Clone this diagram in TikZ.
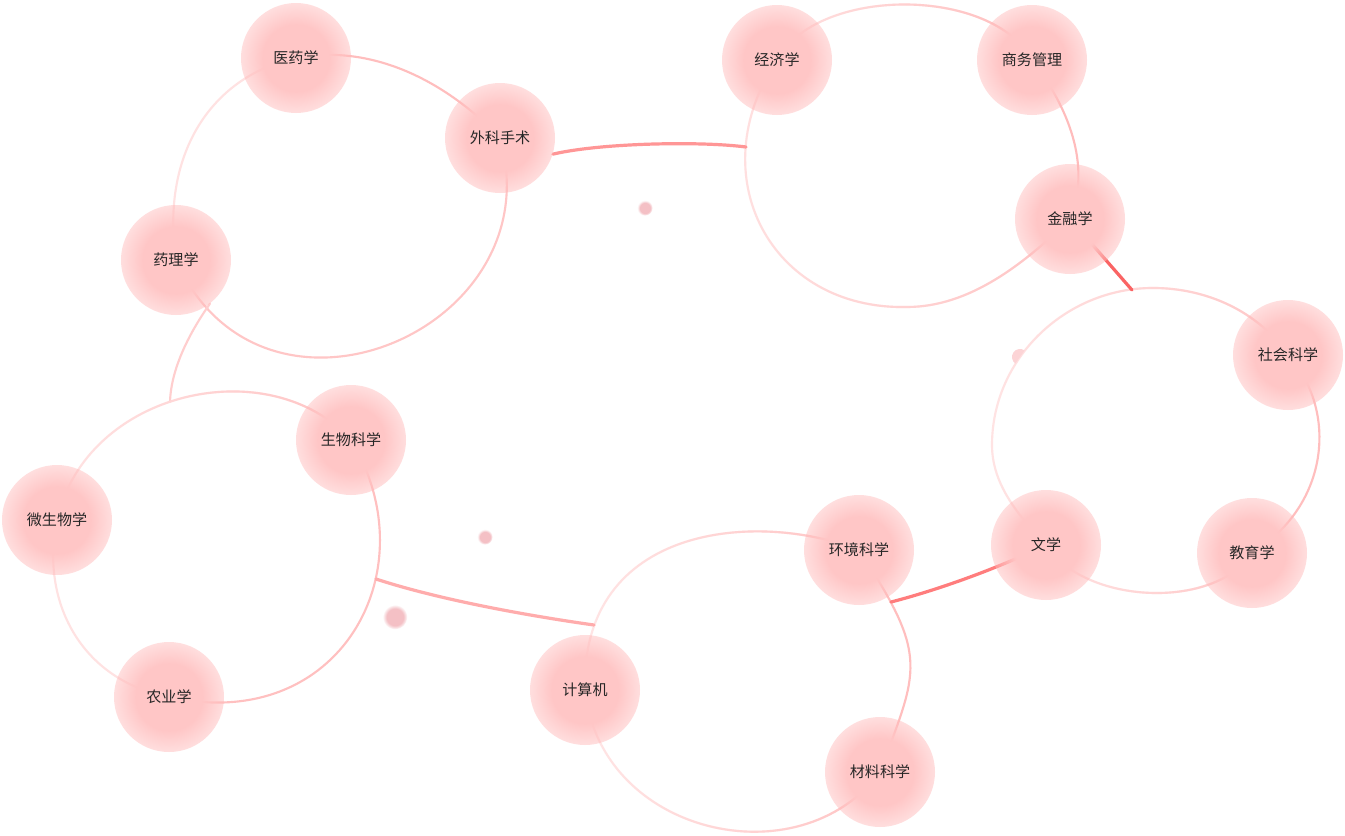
\documentclass[tikz,border=0pt]{standalone}
\usepackage{fontspec}
\newfontfamily\cjk{Noto Sans CJK SC}
\usetikzlibrary{calc,fadings}
\definecolor{bcore}{RGB}{255,198,198}
\definecolor{bhalo}{RGB}{255,185,185}
\definecolor{dotc}{RGB}{244,192,197}
\definecolor{blobc}{RGB}{252,212,214}
\definecolor{cMedA}{RGB}{255,190,190}
\definecolor{cMedB}{RGB}{255,198,198}
\definecolor{cMedC}{RGB}{255,226,226}
\definecolor{cYaoBio}{RGB}{255,206,206}
\definecolor{cBioL}{RGB}{255,228,228}
\definecolor{cBioD}{RGB}{255,196,196}
\definecolor{cBioB}{RGB}{255,192,192}
\definecolor{cBioC}{RGB}{255,226,226}
\definecolor{cEcoL}{RGB}{255,226,226}
\definecolor{cEcoD}{RGB}{255,190,190}
\definecolor{cEcoB}{RGB}{255,188,188}
\definecolor{cEcoC}{RGB}{255,196,196}
\definecolor{cEcoE}{RGB}{255,228,228}
\definecolor{cSocA}{RGB}{255,228,228}
\definecolor{cSocC}{RGB}{255,200,200}
\definecolor{cSocD}{RGB}{255,190,190}
\definecolor{cSocL}{RGB}{255,226,226}
\definecolor{cSocR}{RGB}{255,200,200}
\definecolor{cComL}{RGB}{255,230,230}
\definecolor{cComD}{RGB}{255,196,196}
\definecolor{cComB}{RGB}{255,190,190}
\definecolor{lkMedEco}{RGB}{255,150,150}
\definecolor{lkBioCom}{RGB}{255,172,172}
\definecolor{lkEcoSoc}{RGB}{250,100,100}
\definecolor{lkComSoc}{RGB}{255,125,125}
\pgfdeclareradialshading{corefadesh}{\pgfpoint{0bp}{0bp}}{color(0bp)=(white); color(15bp)=(white); color(25bp)=(black); color(50bp)=(black)}
\pgfdeclarefading{corefade}{\pgfuseshading{corefadesh}}
\pgfdeclareradialshading{dotfadesh}{\pgfpoint{0bp}{0bp}}{color(0bp)=(white); color(17bp)=(white); color(25bp)=(black); color(50bp)=(black)}
\pgfdeclarefading{dotfade}{\pgfuseshading{dotfadesh}}
\tikzfading[name=toright, left color=transparent!100, right color=transparent!0]
\pgfdeclarelayer{bg}
\pgfdeclarelayer{edges}
\pgfsetlayers{bg,edges,main}
\begin{document}
\begin{tikzpicture}[x=0.75pt,y=-0.75pt,
  bub/.style={circle, minimum size=82.5pt, inner sep=0pt, fill=bhalo, fill opacity=0.45, text opacity=1,
     font=\cjk\fontsize{11.3pt}{13pt}\selectfont, text=black!85,
     path picture={\fill[bcore, fill opacity=1, path fading=corefade] (path picture bounding box.center) circle[radius=41.25pt];}},
  dot/.style={circle, inner sep=0pt, fill=dotc, path fading=dotfade},
  ed/.style={line width=1.6pt, line cap=round},
  lk/.style={line width=2.4pt, line cap=round},
  grad/.style={path fading=toright}]
\begin{pgfonlayer}{bg}
\fill[white] (0,0) rectangle (1345,835);
\end{pgfonlayer}
\useasboundingbox (0,0) rectangle (1345,835);

% nodes
\node[bub] (yiyao) at (296,58) {医药学};
\node[bub] (waike) at (500,138) {外科手术};
\node[bub] (yaoli) at (176,260) {药理学};
\node[bub] (jingji) at (777,60) {经济学};
\node[bub] (shangwu) at (1032,60) {商务管理};
\node[bub] (jinrong) at (1070,219) {金融学};
\node[bub] (shehui) at (1288,355) {社会科学};
\node[bub] (jiaoyu) at (1252,553) {教育学};
\node[bub] (wenxue) at (1046,545) {文学};
\node[bub] (shengwu) at (351,440) {生物科学};
\node[bub] (weisheng) at (57,520) {微生物学};
\node[bub] (nongye) at (169,697) {农业学};
\node[bub] (huanjing) at (859,550) {环境科学};
\node[bub] (jisuan) at (585,690) {计算机};
\node[bub] (cailiao) at (880,772) {材料科学};

\node[dot, minimum size=11.5pt] (dotA) at (645,208) {};
\node[dot, minimum size=11.5pt] (dotB) at (485,537) {};
\node[dot, minimum size=18.5pt] (dotC) at (395,617) {};

% points on the cluster rings
\coordinate (econW) at (746,147);
\coordinate (econS) at (907,307);
\coordinate (bioN) at (170,402);
\coordinate (bioE) at (376,579);
\coordinate (compW) at (594,625);
\coordinate (compE) at (891,602);
\coordinate (socW) at (992,445);
\coordinate (socT) at (1153,288);
\coordinate (socN) at (1132,290);

\begin{pgfonlayer}{edges}
% medicine
\draw[ed, cMedA] (yiyao.center) .. controls (380,42) and (455,90) .. (waike.center);
\draw[ed, cMedB] (waike.center) .. controls (555,330) and (262,454) .. (yaoli.center);
\draw[ed, cMedC] (yaoli.center) .. controls (160,150) and (215,75) .. (yiyao.center);
\draw[ed, cYaoBio] (yaoli.-52) .. controls (190,332) and (171,368) .. (bioN);
% biology
\draw[ed, cBioL] (weisheng.center) .. controls (86,390) and (270,350) .. (shengwu.center);
\draw[ed, cBioD, grad] (weisheng.center) .. controls (86,390) and (270,350) .. (shengwu.center);
\draw[ed, cBioB] (shengwu.center) .. controls (430,570) and (340,735) .. (nongye.center);
\draw[ed, cBioC] (nongye.center) .. controls (80,680) and (40,600) .. (weisheng.center);
% economics
\draw[ed, cEcoL] (jingji.center) .. controls (817,-14) and (992,-14) .. (shangwu.center);
\draw[ed, cEcoD, grad] (jingji.center) .. controls (817,-14) and (992,-14) .. (shangwu.center);
\draw[ed, cEcoB] (shangwu.center) .. controls (1068,107) and (1092,165) .. (jinrong.center);
\draw[ed, cEcoE] (jinrong.center) .. controls (1025,263) and (970,307) .. (econS)
   .. controls (770,310) and (700,175) .. (jingji.center);
\draw[ed, cEcoC, grad] (jinrong.center) .. controls (1025,263) and (970,307) .. (econS)
   .. controls (770,310) and (700,175) .. (jingji.center);
% social
\draw[ed, cSocA] (wenxue.center) .. controls (1019,516) and (992,485) .. (socW)
   .. controls (992,358) and (1066,288) .. (socT)
   .. controls (1206,288) and (1258,311) .. (shehui.center);
\draw[ed, cSocC, grad] (wenxue.center) .. controls (1019,516) and (992,485) .. (socW)
   .. controls (992,358) and (1066,288) .. (socT)
   .. controls (1206,288) and (1258,311) .. (shehui.center);
\draw[ed, cSocD] (shehui.center) .. controls (1338,410) and (1330,505) .. (jiaoyu.center);
\draw[ed, cSocL] (jiaoyu.center) .. controls (1215,610) and (1085,605) .. (wenxue.center);
\draw[ed, cSocR, grad] (jiaoyu.center) .. controls (1215,610) and (1085,605) .. (wenxue.center);
% computing
\draw[ed, cComL] (jisuan.center) .. controls (580,525) and (757,510) .. (huanjing.center);
\draw[ed, cComD, grad] (jisuan.center) .. controls (580,525) and (757,510) .. (huanjing.center);
\draw[ed, cComB] (huanjing.center) .. controls (930,658) and (918,669) .. (cailiao.center);
\draw[ed, cComL] (cailiao.center) .. controls (800,880) and (600,835) .. (jisuan.center);
\draw[ed, cComD, grad] (cailiao.center) .. controls (800,880) and (600,835) .. (jisuan.center);
% links between groups
\draw[lk, lkMedEco] (waike.-17) .. controls (600,143) and (700,141) .. (econW);
\draw[lk, lkBioCom] (bioE) .. controls (440,600) and (530,616) .. (compW);
\draw[lk, lkEcoSoc] (jinrong.center) -- (socN);
\draw[lk, lkComSoc] (compE) .. controls (930,592) and (990,572) .. (wenxue.center);
% small blob on the social ring
\fill[blobc] (1020,357) ++(125.3:8) arc[start angle=125.3, end angle=305.3, radius=8] -- cycle;
\end{pgfonlayer}
\end{tikzpicture}
\end{document}
